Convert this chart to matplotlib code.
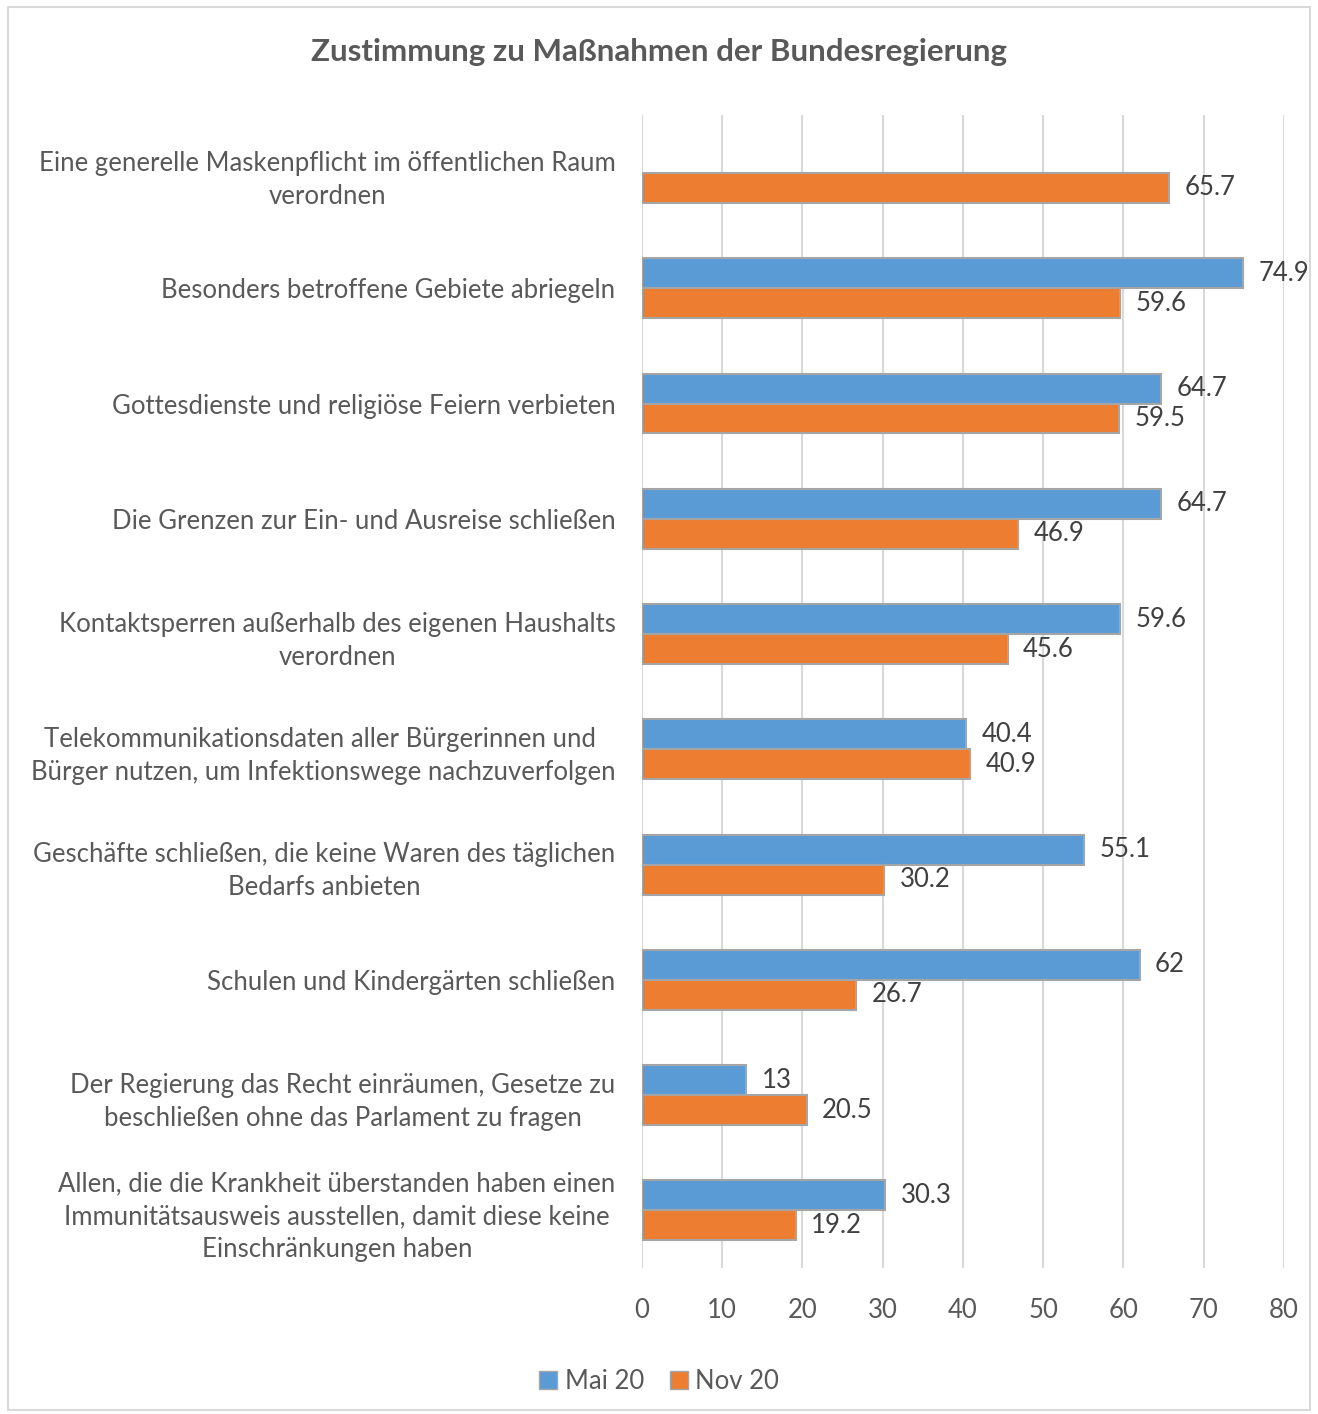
import numpy as np
import matplotlib.pyplot as plt
from matplotlib.patches import Rectangle, Patch

plt.rcParams['font.family'] = ['Lato', 'DejaVu Sans']

categories = [
    "Eine generelle Maskenpflicht im öffentlichen Raum\nverordnen",
    "Besonders betroffene Gebiete abriegeln",
    "Gottesdienste und religiöse Feiern verbieten",
    "Die Grenzen zur Ein- und Ausreise schließen",
    "Kontaktsperren außerhalb des eigenen Haushalts\nverordnen",
    "Telekommunikationsdaten aller Bürgerinnen und \nBürger nutzen, um Infektionswege nachzuverfolgen",
    "Geschäfte schließen, die keine Waren des täglichen\nBedarfs anbieten",
    "Schulen und Kindergärten schließen",
    "Der Regierung das Recht einräumen, Gesetze zu\nbeschließen ohne das Parlament zu fragen",
    "Allen, die die Krankheit überstanden haben einen\nImmunitätsausweis ausstellen, damit diese keine\nEinschränkungen haben",
]
mai20 = [None, 74.9, 64.7, 64.7, 59.6, 40.4, 55.1, 62, 13, 30.3]
nov20 = [65.7, 59.6, 59.5, 46.9, 45.6, 40.9, 30.2, 26.7, 20.5, 19.2]
xticks = [0, 10, 20, 30, 40, 50, 60, 70, 80]

blue = "#5B9BD5"
orange = "#ED7D31"
edge = "#A5A5A5"
txt = "#595959"

fig = plt.figure(figsize=(13.18, 14.14), dpi=100)
ax = fig.add_axes([0.4871, 0.1033, 0.4871, 0.8151])

y = np.arange(len(categories))
h = 0.26
fs = 18.5

for i, (m, n) in enumerate(zip(mai20, nov20)):
    if m is not None:
        ax.barh(i - h / 2, m, height=h, color=blue, edgecolor=edge, linewidth=1.5)
        ax.text(m + 1.9, i - h / 2, "{:g}".format(m), va='center', ha='left',
                fontsize=fs, color="#404040")
    ax.barh(i + h / 2, n, height=h, color=orange, edgecolor=edge, linewidth=1.5)
    ax.text(n + 1.9, i + h / 2, "{:g}".format(n), va='center', ha='left',
            fontsize=fs, color="#404040")

ax.set_ylim(len(categories) - 0.5, -0.5)
ax.set_xlim(0, 80)
ax.set_yticks(y)
ax.set_yticklabels(categories, fontsize=fs, color=txt, linespacing=1.4,
                   multialignment='center')
ax.set_xticks(xticks)
ax.set_xticklabels([str(t) for t in xticks], fontsize=fs, color=txt)
ax.tick_params(axis='y', length=0, pad=19)
ax.tick_params(axis='x', length=0, pad=22)
ax.grid(axis='x', color="#D9D9D9", linewidth=1.5)
ax.set_axisbelow(True)
for s in ax.spines.values():
    s.set_visible(False)

fig.text(0.5, 0.963, "Zustimmung zu Maßnahmen der Bundesregierung",
         ha='center', va='center', fontsize=22.5, fontweight='bold', color=txt)

handles = [Patch(facecolor=blue, edgecolor=edge, label="Mai 20"),
           Patch(facecolor=orange, edgecolor=edge, label="Nov 20")]
fig.legend(handles=handles, loc='center', bbox_to_anchor=(0.5, 0.023), ncol=2,
           frameon=False, fontsize=fs, labelcolor=txt, handlelength=0.7,
           handleheight=0.7, handletextpad=0.3, columnspacing=1.0)

fig.patches.append(Rectangle((0.006, 0.003), 0.988, 0.992, transform=fig.transFigure,
                             fill=False, edgecolor="#D9D9D9", linewidth=1.5))

fig.savefig("out.png", dpi=100)
